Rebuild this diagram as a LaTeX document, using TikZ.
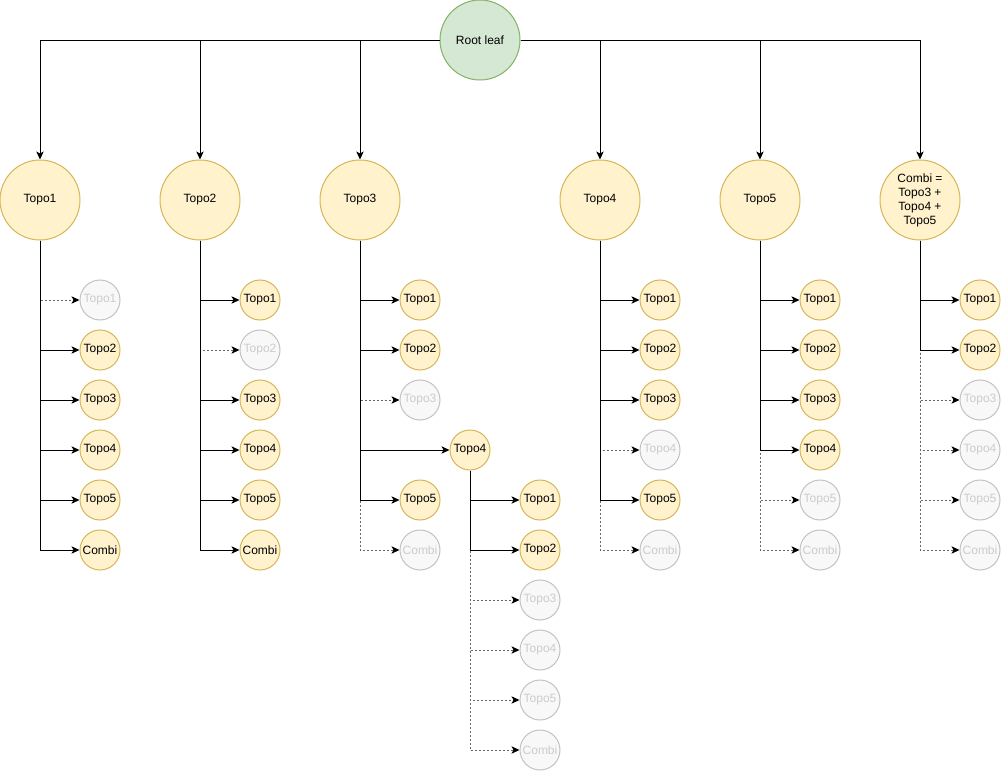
\documentclass[tikz,border=0pt]{standalone}
\usepackage{fontspec}
\setmainfont{Liberation Sans}
\usepackage{tikz}
\usetikzlibrary{arrows.meta,calc,positioning}
\definecolor{topofill}{HTML}{FFF2CC}
\definecolor{topodraw}{HTML}{D6B656}
\definecolor{rootfill}{HTML}{D5E8D4}
\definecolor{rootdraw}{HTML}{82B366}
\definecolor{dimfill}{HTML}{F8F8F8}
\definecolor{dimdraw}{HTML}{C2C2C2}
\definecolor{dimtext}{HTML}{CCCCCC}
\definecolor{dimline}{HTML}{666666}
\pgfdeclarelayer{off}
\pgfdeclarelayer{on}
\pgfsetlayers{off,on,main}
\tikzset{
  leaf/.style={circle, draw=topodraw, fill=topofill, line width=0.75pt, inner sep=0pt,
    font=\fontsize{9}{10.5}\selectfont},
  root/.style={leaf, draw=rootdraw, fill=rootfill, minimum size=60pt},
  big/.style={leaf, minimum size=60pt},
  kidon/.style={leaf, minimum size=30pt},
  kidoff/.style={kidon, draw=dimdraw, fill=dimfill, text=dimtext},
  edgeon/.style={line width=0.75pt, -{Stealth[length=6pt,width=5.5pt,inset=1.5pt]}},
  edgeoff/.style={line width=0.75pt, draw=dimline, dash pattern=on 1.5pt off 1.5pt,
    -{Stealth[length=6pt,width=5.5pt,inset=1.5pt,color=black]}},
}

\begin{document}
\begin{tikzpicture}[x=0.75pt,y=-0.75pt]
\useasboundingbox (0,0) rectangle (1001,771);
\node[root] (root) at (480,40) {Root leaf};
\node[big] (t1) at (40,200) {Topo1};
\node[big] (t2) at (200,200) {Topo2};
\node[big] (t3) at (360,200) {Topo3};
\node[big] (t4) at (600,200) {Topo4};
\node[big] (t5) at (760,200) {Topo5};
\node[big, align=center] (t6) at (920,200) {Combi =\\Topo3 +\\Topo4 +\\Topo5};
% root to the topologies
\foreach \p in {t1,t2,t3}
  \draw[edgeon] (root.west) -| (\p.north);
\foreach \p in {t4,t5,t6}
  \draw[edgeon] (root.east) -| (\p.north);
% leaves under each topology
\foreach \p/\kids in {
  t1/{Topo1/off/60,Topo2/on/60,Topo3/on/60,Topo4/on/60,Topo5/on/60,Combi/on/60},
  t2/{Topo1/on/60,Topo2/off/60,Topo3/on/60,Topo4/on/60,Topo5/on/60,Combi/on/60},
  t3/{Topo1/on/60,Topo2/on/60,Topo3/off/60,Topo4/on/110,Topo5/on/60,Combi/off/60},
  t4/{Topo1/on/60,Topo2/on/60,Topo3/on/60,Topo4/off/60,Topo5/on/60,Combi/off/60},
  t5/{Topo1/on/60,Topo2/on/60,Topo3/on/60,Topo4/on/60,Topo5/off/60,Combi/off/60},
  t6/{Topo1/on/60,Topo2/on/60,Topo3/off/60,Topo4/off/60,Topo5/off/60,Combi/off/60}}{
  \foreach \lab/\st/\dx [count=\i] in \kids{
    \node[kid\st] (\p-\i) at ($(\p)+(\dx,50+50*\i)$) {\lab};
    \begin{pgfonlayer}{\st}
      \draw[edge\st] (\p.south) |- (\p-\i);
    \end{pgfonlayer}
  }
}
% second level under Topo3 -> Topo4
\foreach \lab/\st [count=\i] in {Topo1/on,Topo2/on,Topo3/off,Topo4/off,Topo5/off,Combi/off}{
  \node[kid\st] (m-\i) at ($(t3-4)+(70,50*\i)$) {\lab};
  \begin{pgfonlayer}{\st}
    \draw[edge\st] (t3-4.south) |- (m-\i);
  \end{pgfonlayer}
}
\end{tikzpicture}
\end{document}
